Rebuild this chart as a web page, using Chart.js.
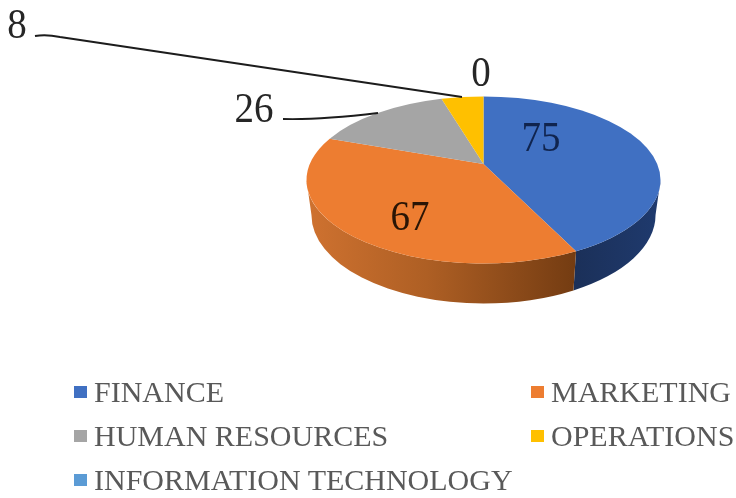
<!DOCTYPE html>
<html>
<head>
<meta charset="utf-8">
<script src="https://cdn.jsdelivr.net/npm/chart.js@4/dist/chart.umd.min.js"></script>
<style>
    html, body { margin: 0; padding: 0; background: #fff; }
    #wrap { position: relative; width: 736px; height: 498px; overflow: hidden; filter: blur(0.5px); }
    #legend {
        position: absolute; left: 74px; top: 370px;
        display: grid; grid-template-columns: 457px 205px; grid-auto-rows: 44px;
        font: 30px "Liberation Serif", serif; color: #595959;
    }
    #legend div { display: flex; align-items: center; white-space: nowrap; }
    #legend i { display: block; width: 13px; height: 12px; margin-right: 7px; flex: none; }
</style>
</head>
<body>
<div id="wrap">
    <canvas id="pie" width="736" height="498"></canvas>
    <div id="legend"></div>
</div>
<script>
const departments = ['FINANCE', 'MARKETING', 'HUMAN RESOURCES', 'OPERATIONS', 'INFORMATION TECHNOLOGY'];
const counts = [75, 67, 26, 8, 0];
const sliceColors = ['#4070c2', '#ed7d31', '#a5a5a5', '#ffc000', '#5b9bd5'];

// Where the value labels sit, same order as counts
const labelSpots = [[541, 140], [410, 219], [254, 111], [17, 27], [481, 75]];

const TILT = 0.472;       // ellipse height / width of the top face
const APEX_SHIFT = -16;   // perspective: pie centre sits above the ellipse centre
const WARP = 0.0886;      // same perspective, applied to the rim angles
const BOTTOM_RX = 0.972;  // bottom rim is a bit narrower
const BOTTOM_RY = 0.5;
const BOTTOM_DROP = 35;

// Moves a rim angle so the slices line up with the shifted centre
function warpAngle(angle) {
    const x = Math.cos(angle), y = Math.sin(angle) - WARP;
    const dx = 1 - WARP * Math.sin(angle), dy = WARP * Math.cos(angle);
    const d = dx * dx + dy * dy;
    const w = Math.atan2((y * dx - x * dy) / d, (x * dx + y * dy) / d);
    return w + 2 * Math.PI * Math.round((angle - w) / (2 * Math.PI));
}

function sideFill(ctx, index) {
    if (index === 0) {
        const g = ctx.createLinearGradient(575, 0, 660, 0);
        g.addColorStop(0, '#1b3059');
        g.addColorStop(1, '#1f3a6e');
        return g;
    }
    if (index === 1) {
        const g = ctx.createLinearGradient(306, 0, 575, 0);
        g.addColorStop(0, '#cf7230');
        g.addColorStop(0.45, '#ae5f24');
        g.addColorStop(1, '#743c12');
        return g;
    }
    return '#777';
}

const pie3d = {
    id: 'pie3d',
    // The library lays out the arcs, the faces are painted here
    beforeDatasetDraw(chart, args) {
        const ctx = chart.ctx;
        const arcs = args.meta.data;
        ctx.save();
        arcs.forEach((arc, i) => {
            const s = warpAngle(arc.startAngle), e = warpAngle(arc.endAngle);
            const from = Math.max(s, 0), to = Math.min(e, Math.PI);
            if (to <= from) return;
            const rx = arc.outerRadius, ry = rx * TILT;
            ctx.beginPath();
            ctx.ellipse(arc.x, arc.y, rx, ry, 0, from, to);
            ctx.ellipse(arc.x, arc.y + BOTTOM_DROP, rx * BOTTOM_RX, rx * BOTTOM_RY, 0, to, from, true);
            ctx.closePath();
            ctx.fillStyle = sideFill(ctx, i);
            ctx.fill();
        });
        arcs.forEach((arc, i) => {
            if (arc.endAngle - arc.startAngle <= 0) return;
            const rx = arc.outerRadius, ry = rx * TILT;
            ctx.beginPath();
            ctx.moveTo(arc.x, arc.y + APEX_SHIFT);
            ctx.ellipse(arc.x, arc.y, rx, ry, 0, warpAngle(arc.startAngle), warpAngle(arc.endAngle));
            ctx.closePath();
            ctx.fillStyle = sliceColors[i];
            ctx.fill();
        });
        ctx.restore();
        return false;
    },
    afterDatasetsDraw(chart) {
        const ctx = chart.ctx;
        ctx.save();
        ctx.strokeStyle = '#1c1c1c';
        ctx.lineWidth = 2;
        ctx.beginPath();
        ctx.moveTo(35, 36);
        ctx.quadraticCurveTo(46, 34, 60, 37);
        ctx.lineTo(462, 97);
        ctx.stroke();
        ctx.beginPath();
        ctx.moveTo(283, 119);
        ctx.quadraticCurveTo(320, 120, 378, 113);
        ctx.stroke();

        ctx.font = '39px "Liberation Serif", serif';
        ctx.textAlign = 'center';
        ctx.textBaseline = 'middle';
        counts.forEach((value, i) => {
            ctx.save();
            ctx.translate(labelSpots[i][0], labelSpots[i][1]);
            ctx.scale(1, 1.08);
            ctx.fillStyle = i === 0 ? '#10244e' : (i === 1 ? '#2a1505' : '#262626');
            ctx.fillText(String(value), 0, 0);
            ctx.restore();
        });
        ctx.restore();
    }
};

new Chart(document.getElementById('pie').getContext('2d'), {
    type: 'pie',
    data: {
        labels: departments,
        datasets: [{ data: counts, backgroundColor: sliceColors, borderWidth: 0 }]
    },
    options: {
        responsive: false,
        animation: false,
        layout: { padding: { left: 306, right: 75, top: 3, bottom: 141 } },
        plugins: { legend: { display: false }, tooltip: { enabled: false } }
    },
    plugins: [pie3d]
});

const legendBox = document.getElementById('legend');
departments.forEach((name, i) => {
    const row = document.createElement('div');
    const swatch = document.createElement('i');
    swatch.style.background = sliceColors[i];
    row.appendChild(swatch);
    row.appendChild(document.createTextNode(name));
    legendBox.appendChild(row);
});
</script>
</body>
</html>
